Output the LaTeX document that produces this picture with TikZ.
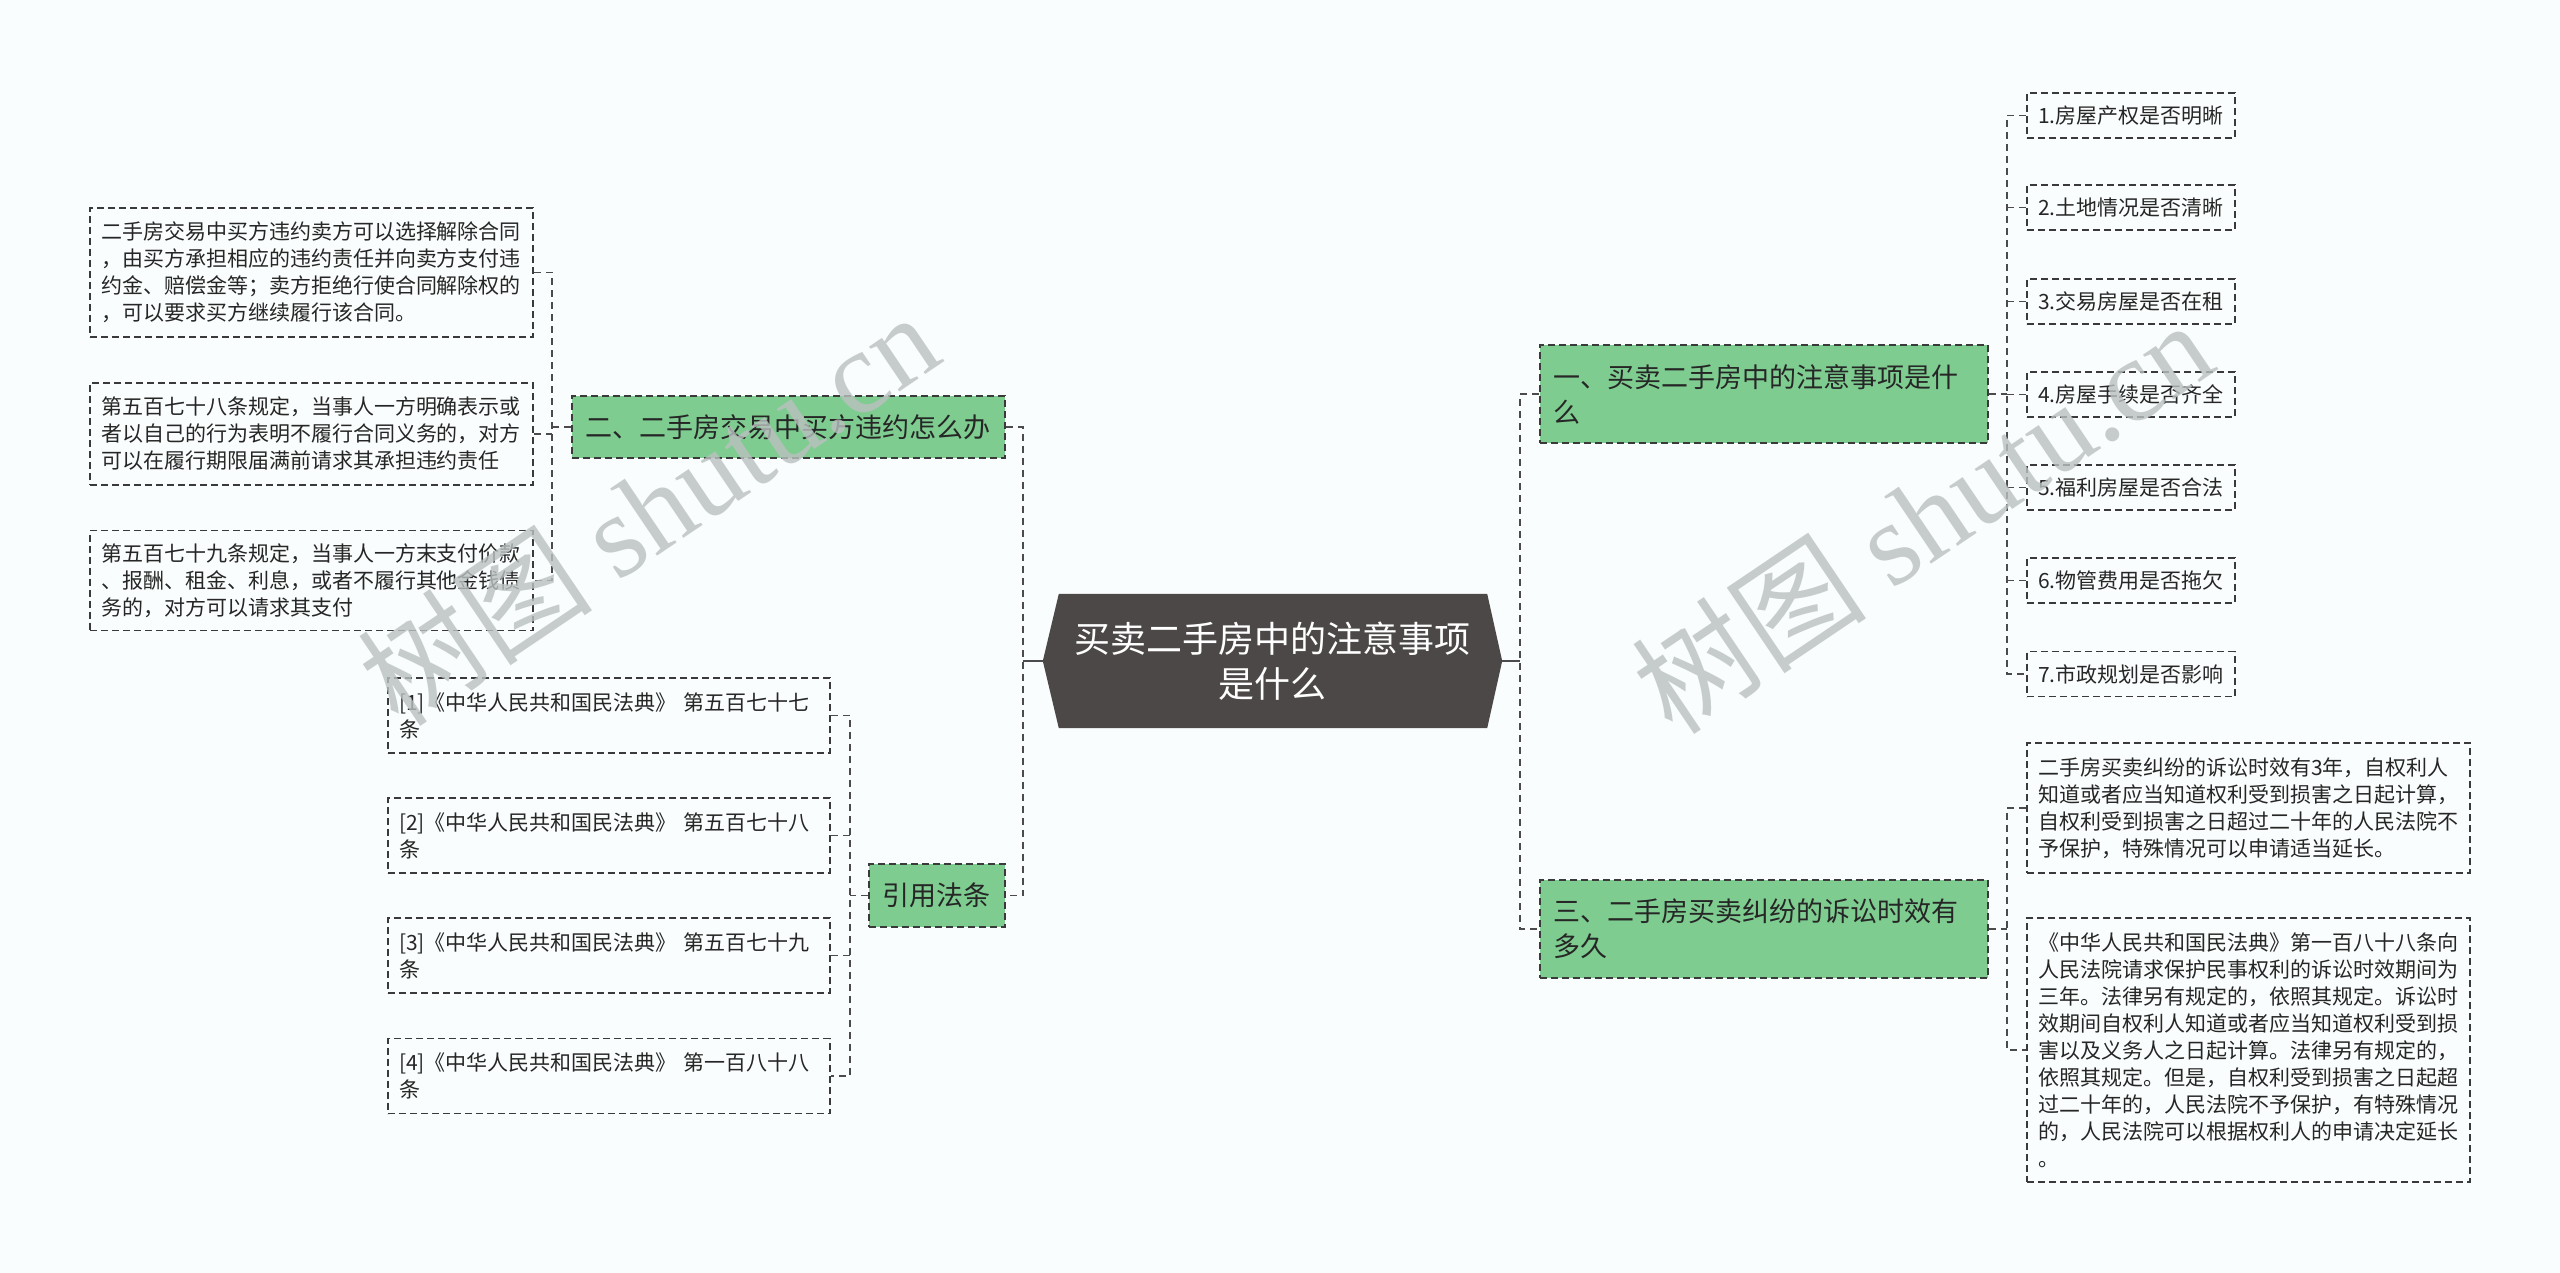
\documentclass[tikz,border=0pt]{standalone}
\usepackage{fontspec}
\setmainfont{Noto Sans CJK SC}
\newfontfamily\wmserif{Liberation Serif}
\usetikzlibrary{backgrounds}
\definecolor{bgc}{RGB}{250,253,253}
\definecolor{greenc}{RGB}{126,204,144}
\definecolor{bordc}{RGB}{58,58,58}
\definecolor{connc}{RGB}{75,75,75}
\definecolor{rootc}{RGB}{77,72,72}
\definecolor{txtc}{RGB}{38,38,38}
\definecolor{wmc}{RGB}{186,192,192}
\begin{document}
\begin{tikzpicture}[x=1pt,y=-1pt,
  box/.style={draw=bordc, line width=1.6pt, dash pattern=on 7pt off 4pt,
    text=txtc, inner xsep=11pt, inner ysep=2pt, align=left, anchor=center,
    font=\fontsize{21}{27}\selectfont},
  greenbox/.style={box, fill=greenc, inner xsep=13pt,
    font=\fontsize{27}{35}\selectfont},
  conn/.style={draw=connc, line width=1.7pt, dash pattern=on 7pt off 5pt},
  trunk/.style={draw=connc, line width=2pt},
  wm/.style={text=wmc, text opacity=0.8, rotate=34, anchor=center,
    font=\fontsize{118}{118}\selectfont}
]
\useasboundingbox (0,0) rectangle (2560,1273);
\begin{scope}[on background layer]
  \fill[bgc] (0,0) rectangle (2560,1273);
\end{scope}

% root
\node[minimum width=459pt, minimum height=134pt, inner sep=0pt, align=center,
  text=white, font=\fontsize{36}{45}\selectfont] (root) at (1272.5,661)
  {买卖二手房中的注意事项\\是什么};
\begin{scope}[on background layer]
  \fill[rootc] (root.west) -- ([xshift=16pt]root.north west) -- ([xshift=-15pt]root.north east)
    -- (root.east) -- ([xshift=-15pt]root.south east) -- ([xshift=16pt]root.south west) -- cycle;
\end{scope}

% main branches
\node[greenbox, text width=422pt, minimum height=98pt] (g1) at (1764,394)
  {一、买卖二手房中的注意事项是什\\么};
\node[greenbox, text width=407pt, minimum height=62pt] (g2) at (788.5,427)
  {二、二手房交易中买方违约怎么办};
\node[greenbox, text width=422pt, minimum height=98pt] (g3) at (1764,929)
  {三、二手房买卖纠纷的诉讼时效有\\多久};
\node[greenbox, text width=110pt, minimum height=63pt] (g4) at (937,895.5)
  {引用法条};

% left detail boxes
\node[box, text width=421pt, minimum height=129pt] (L1) at (311.5,272.5)
  {二手房交易中买方违约卖方可以选择解除合同\\，由买方承担相应的违约责任并向卖方支付违\\约金、赔偿金等；卖方拒绝行使合同解除权的\\，可以要求买方继续履行该合同。};
\node[box, text width=421pt, minimum height=102pt] (L2) at (311.5,434)
  {第五百七十八条规定，当事人一方明确表示或\\者以自己的行为表明不履行合同义务的，对方\\可以在履行期限届满前请求其承担违约责任};
\node[box, text width=421pt, minimum height=100pt] (L3) at (311.5,580.5)
  {第五百七十九条规定，当事人一方末支付价款\\、报酬、租金、利息，或者不履行其他金钱债\\务的，对方可以请求其支付};

% citations
\node[box, text width=420pt, minimum height=75pt] (C1) at (609,715.5)
  {[1]《中华人民共和国民法典》 第五百七十七\\条};
\node[box, text width=420pt, minimum height=75pt] (C2) at (609,835.5)
  {[2]《中华人民共和国民法典》 第五百七十八\\条};
\node[box, text width=420pt, minimum height=75pt] (C3) at (609,955.5)
  {[3]《中华人民共和国民法典》 第五百七十九\\条};
\node[box, text width=420pt, minimum height=75pt] (C4) at (609,1076)
  {[4]《中华人民共和国民法典》 第一百八十八\\条};

% items of branch one
\node[box, text width=186pt, minimum height=45pt] (I1) at (2131,115.5) {1.房屋产权是否明晰};
\node[box, text width=186pt, minimum height=45pt] (I2) at (2131,207.5) {2.土地情况是否清晰};
\node[box, text width=186pt, minimum height=45pt] (I3) at (2131,301.5) {3.交易房屋是否在租};
\node[box, text width=186pt, minimum height=45pt] (I4) at (2131,394.5) {4.房屋手续是否齐全};
\node[box, text width=186pt, minimum height=45pt] (I5) at (2131,487.5) {5.福利房屋是否合法};
\node[box, text width=186pt, minimum height=45pt] (I6) at (2131,580.5) {6.物管费用是否拖欠};
\node[box, text width=186pt, minimum height=45pt] (I7) at (2131,674) {7.市政规划是否影响};

% details of branch three
\node[box, text width=421pt, minimum height=130pt] (R1) at (2248.5,808)
  {二手房买卖纠纷的诉讼时效有3年，自权利人\\知道或者应当知道权利受到损害之日起计算，\\自权利受到损害之日超过二十年的人民法院不\\予保护，特殊情况可以申请适当延长。};
\node[box, text width=421pt, minimum height=264pt] (R2) at (2248.5,1050)
  {《中华人民共和国民法典》第一百八十八条向\\人民法院请求保护民事权利的诉讼时效期间为\\三年。法律另有规定的，依照其规定。诉讼时\\效期间自权利人知道或者应当知道权利受到损\\害以及义务人之日起计算。法律另有规定的，\\依照其规定。但是，自权利受到损害之日起超\\过二十年的，人民法院不予保护，有特殊情况\\的，人民法院可以根据权利人的申请决定延长\\。};

% junctions
\coordinate (jL) at (1023,661);
\coordinate (jR) at (1520,661);
\coordinate (jA) at (552,427);
\coordinate (jB) at (850,895.5);
\coordinate (jC) at (2007,394);
\coordinate (jD) at (2007,929);

% connectors
\draw[trunk] (root.west) -- (jL);
\draw[trunk] (root.east) -- (jR);
\draw[conn] (g2.east) -- (g2.east -| jL) |- (g4.east);
\draw[conn] (g1.west) -- (g1.west -| jR) |- (g3.west);

\draw[conn] (L1.east) -- (L1.east -| jA) |- (L3.east);
\draw[conn] (L2.east) -- (L2.east -| jA);
\draw[conn] (g2.west) -- (g2.west -| jA);

\draw[conn] (C1.east) -- (C1.east -| jB) |- (C4.east);
\draw[conn] (C2.east) -- (C2.east -| jB);
\draw[conn] (C3.east) -- (C3.east -| jB);
\draw[conn] (g4.west) -- (g4.west -| jB);

\draw[conn] (I1.west) -- (I1.west -| jC) |- (I7.west);
\foreach \n in {I2,I3,I4,I5,I6} {
  \draw[conn] (\n.west) -- (\n.west -| jC);
}
\draw[conn] (g1.east) -- (g1.east -| jC);

\draw[conn] (R1.west) -- (R1.west -| jD) |- (R2.west);
\draw[conn] (g3.east) -- (g3.east -| jD);

% watermarks
\node[wm] (wm1) at (648,508) {树图 {\wmserif shutu.cn}};
\node[wm] (wm2) at (1922,516) {树图 {\wmserif shutu.cn}};
\end{tikzpicture}
\end{document}
